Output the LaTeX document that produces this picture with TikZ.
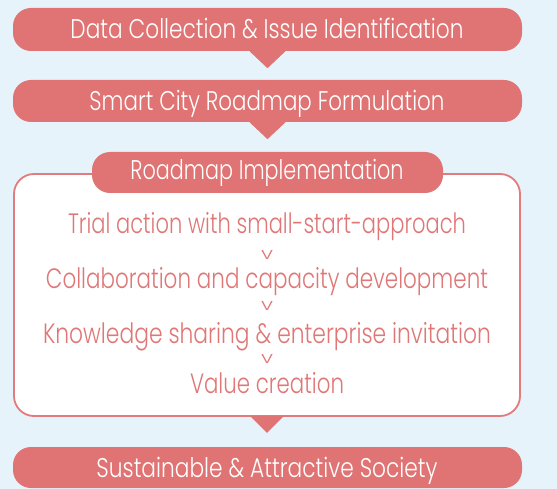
\documentclass[tikz,border=0pt]{standalone}
\usepackage{fontspec}
\setmainfont{Poppins Light}
\usepackage{graphicx}
\definecolor{bg}{HTML}{E6F3FA}
\definecolor{pk}{HTML}{E07474}
\definecolor{pktxt}{HTML}{E07777}
\definecolor{pkline}{HTML}{E27C7C}
\newcommand{\fitline}[2]{\resizebox{#1pt}{\height}{#2}}
\begin{document}
\begin{tikzpicture}[x=1pt,y=-1pt,
  banner/.style={fill=pk, draw=none, rounded corners=18pt, inner sep=0pt},
  bantext/.style={text=white, anchor=base, inner sep=0pt, font=\fontsize{27}{30}\selectfont},
  boxtext/.style={text=pktxt, anchor=base, inner sep=0pt, font=\fontsize{28}{30}\selectfont},
  chev/.style={text=pktxt, anchor=base, inner sep=0pt, font=\fontsize{18}{20}\selectfont},
  pointer/.style={fill=pk, draw=none}
]
\fill[bg] (0,0) rectangle (557,489);
\useasboundingbox (0,0) rectangle (557,489);

% banners
\node[banner, minimum width=509pt, minimum height=43pt] (b1) at (267.5,29.5) {};
\node[banner, minimum width=509pt, minimum height=42pt] (b2) at (267.5,101) {};
\node[draw=pkline, line width=1.8pt, fill=white, rounded corners=20pt, inner sep=0pt,
      minimum width=506pt, minimum height=242pt] (box) at (267,295) {};
\node[banner, minimum width=351pt, minimum height=41pt] (b3) at (267.5,172.5) {};
\node[banner, minimum width=509pt, minimum height=41pt] (b4) at (267.5,467.5) {};

% pointers
\fill[pointer] ([xshift=-18pt]b1.south) -- ([xshift=18pt]b1.south) -- ([yshift=-17pt]b1.south) -- cycle;
\fill[pointer] ([xshift=-18pt]b2.south) -- ([xshift=18pt]b2.south) -- ([yshift=-17pt]b2.south) -- cycle;
\fill[pointer] ([xshift=-17pt,yshift=1pt]box.south) -- ([xshift=17pt,yshift=1pt]box.south) -- ([yshift=-16pt]box.south) -- cycle;

% banner texts
\node[bantext] (t1) at (267,39) {\fitline{393}{Data Collection \& Issue Identification}};
\node[bantext] (t2) at (267,110.5) {\fitline{355}{Smart City Roadmap Formulation}};
\node[bantext] (t3) at (267,180) {\fitline{273}{Roadmap Implementation}};
\node[bantext] (t4) at (267,477) {\fitline{341}{Sustainable \& Attractive Society}};

% box texts
\node[boxtext] (s1) at (267,234) {\fitline{398}{Trial action with small-start-approach}};
\node[chev] (v1) at (267,259) {\resizebox{12pt}{9pt}{v}};
\node[boxtext] (s2) at (267,288) {\fitline{442}{Collaboration and capacity development}};
\node[chev] (v2) at (267,310.5) {\resizebox{12pt}{9pt}{v}};
\node[boxtext] (s3) at (267,343) {\fitline{448}{Knowledge sharing \& enterprise invitation}};
\node[chev] (v3) at (267,363) {\resizebox{12pt}{9pt}{v}};
\node[boxtext] (s4) at (267,393) {\fitline{154}{Value creation}};
\end{tikzpicture}
\end{document}
